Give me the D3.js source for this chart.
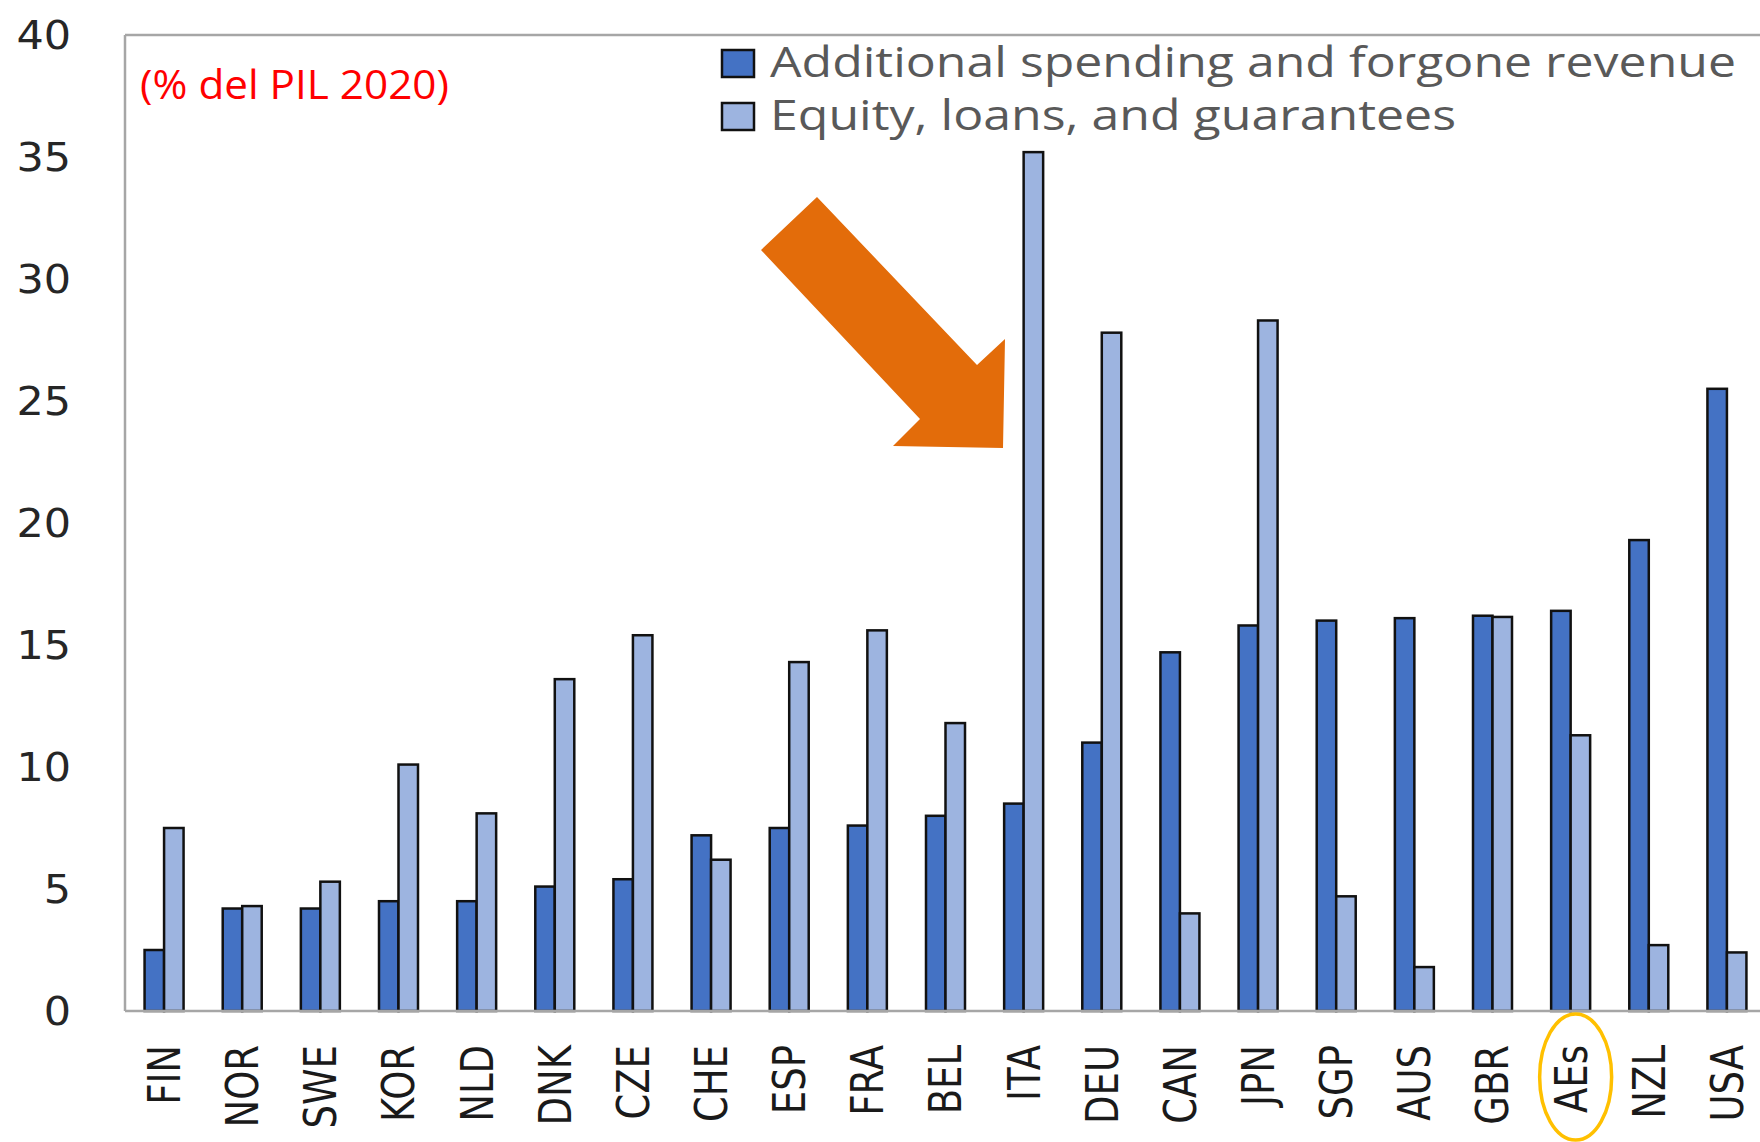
<!DOCTYPE html>
<html><head><meta charset="utf-8">
<script src="https://cdn.jsdelivr.net/npm/d3@7"></script>
<style>html,body{margin:0;padding:0;background:#fff;overflow:hidden}</style>
</head><body>
<svg id="chart" width="1760" height="1142"></svg>
<script>
const categories = ["FIN","NOR","SWE","KOR","NLD","DNK","CZE","CHE","ESP","FRA","BEL","ITA","DEU","CAN","JPN","SGP","AUS","GBR","AEs","NZL","USA"];
const spending = [2.5,4.2,4.2,4.5,4.5,5.1,5.4,7.2,7.5,7.6,8.0,8.5,11.0,14.7,15.8,16.0,16.1,16.2,16.4,19.3,25.5];
const equity   = [7.5,4.3,5.3,10.1,8.1,13.6,15.4,6.2,14.3,15.6,11.8,35.2,27.8,4.0,28.3,4.7,1.8,16.15,11.3,2.7,2.4];
const seriesNames = ["Additional spending and forgone revenue","Equity, loans, and guarantees"];
const seriesColors = ["#4472C4","#9DB4E0"];
const yTicks = [0,5,10,15,20,25,30,35,40];
const note = "(% del PIL 2020)";
const highlight = "AEs";

(function(){
const svg = d3.select("#chart");
const mLeft = 125, mTop = 35, mBottom = 1011, rightEnd = 1766;

const x = d3.scaleBand().domain(categories).range([mLeft, rightEnd]).paddingInner(0).paddingOuter(0);
const bw = x.bandwidth();
const x1 = d3.scaleBand().domain([0,1]).range([bw/2 - 19.5, bw/2 + 19.5]);
const y = d3.scaleLinear().domain([0,40]).range([mBottom, mTop]);

const frame = svg.append("g").attr("stroke","#A6A6A6").attr("stroke-width",2.5).attr("fill","none");
frame.append("line").attr("x1",mLeft).attr("x2",1760).attr("y1",y(40)).attr("y2",y(40));
frame.append("line").attr("x1",mLeft).attr("x2",mLeft).attr("y1",y(40)).attr("y2",y(0));

svg.append("g").selectAll("text").data(yTicks).join("text")
  .attr("transform", d => `translate(71,${y(d)}) scale(1.1,1)`)
  .attr("text-anchor","end").attr("dy","0.36em")
  .attr("font-family","DejaVu Sans").attr("font-size",39).attr("fill","#262626")
  .text(d => d);

const data = categories.map((c,i) => ({c, v:[spending[i], equity[i]]}));
const groups = svg.append("g").selectAll("g").data(data).join("g")
  .attr("transform", d => `translate(${x(d.c)},0)`);
groups.selectAll("rect").data(d => d.v.map((v,k)=>({v,k}))).join("rect")
  .attr("x", d => x1(d.k)).attr("width", x1.bandwidth())
  .attr("y", d => y(d.v)).attr("height", d => y(0) - y(d.v))
  .attr("fill", d => seriesColors[d.k]).attr("stroke","#111").attr("stroke-width",2.5);

svg.append("line").attr("x1",mLeft).attr("x2",1760).attr("y1",y(0)).attr("y2",y(0))
  .attr("stroke","#A6A6A6").attr("stroke-width",2.5);

svg.append("g").selectAll("text").data(categories).join("text")
  .attr("transform", d => `translate(${x(d)+bw/2},1045) scale(1.2,1) rotate(-90)`)
  .attr("text-anchor","end").attr("dy","0.36em")
  .attr("font-family","DejaVu Sans").attr("font-size",37).attr("fill","#1a1a1a")
  .text(d => d);

svg.append("ellipse").attr("cx", x(highlight)+bw/2+5).attr("cy",1077).attr("rx",36).attr("ry",63)
  .attr("fill","none").attr("stroke","#FFC000").attr("stroke-width",3.5);

svg.append("text").attr("x",140).attr("y",99).attr("fill","#FF0000")
  .attr("font-family","Liberation Sans Narrow, Open Sans, sans-serif").attr("font-size",41)
  .attr("textLength",309).attr("lengthAdjust","spacingAndGlyphs").text(note);

const legendY = [50, 103];
const legendW = [966, 686];
const lg = svg.append("g");
seriesNames.forEach((n,i) => {
  lg.append("rect").attr("x",722).attr("y",legendY[i]).attr("width",32).attr("height",27)
    .attr("fill",seriesColors[i]).attr("stroke","#111").attr("stroke-width",2.5);
  lg.append("text").attr("x",770).attr("y",legendY[i]+27).attr("fill","#595959")
    .attr("font-family","Liberation Sans Narrow, Open Sans, sans-serif").attr("font-size",42)
    .attr("textLength",legendW[i]).attr("lengthAdjust","spacingAndGlyphs").text(n);
});

const arrowPts = [[817,197],[761,250],[920,419],[893,446],[1003,448],[1005,339],[977,365]];
svg.append("polygon").attr("points", arrowPts.map(p=>p.join(",")).join(" ")).attr("fill","#E36C0A");
})();
</script>
</body></html>
